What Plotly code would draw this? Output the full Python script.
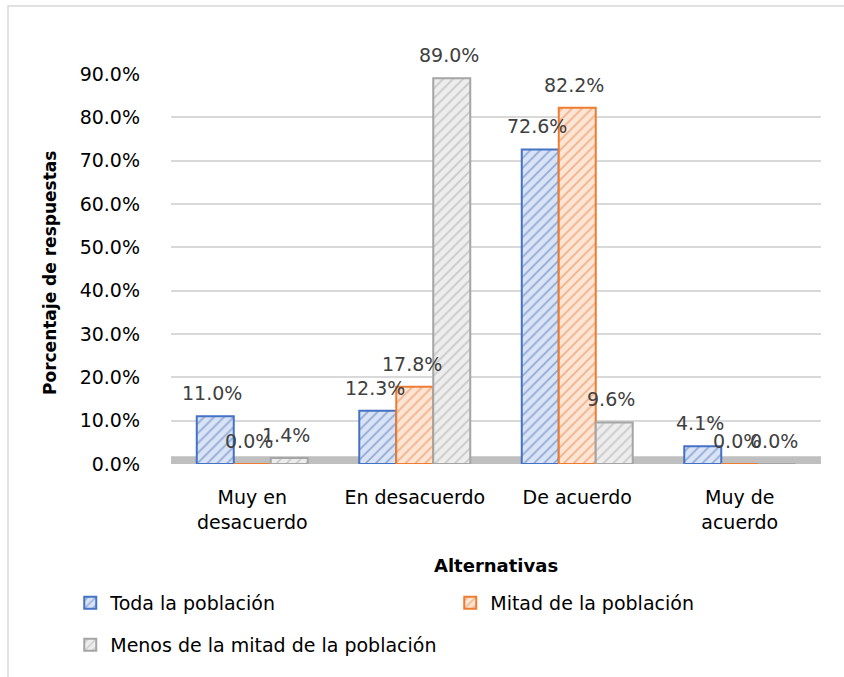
import plotly.graph_objects as go

categories = ["Muy en<br>desacuerdo", "En desacuerdo", "De acuerdo", "Muy de<br>acuerdo"]
series_names = ["Toda la población", "Mitad de la población", "Menos de la mitad de la población"]
toda = [11.0, 12.3, 72.6, 4.1]
mitad = [0.0, 17.8, 82.2, 0.0]
menos = [1.4, 89.0, 9.6, 0.0]
y_ticks = [0, 10, 20, 30, 40, 50, 60, 70, 80, 90]
y_tick_labels = [f"{v:.1f}%" for v in y_ticks]

series_values = [toda, mitad, menos]
edge_colors = ["#4472C4", "#ED7D31", "#A5A5A5"]
fill_colors = ["#DAE3F3", "#FBE5D6", "#EDEDED"]
legends = ["legend", "legend", "legend2"]

FONT = "DejaVu Sans"

fig = go.Figure()
for name, vals, ec, fc, lg in zip(series_names, series_values, edge_colors, fill_colors, legends):
    fig.add_trace(go.Bar(
        x=categories, y=vals, name=name, legend=lg,
        marker=dict(
            color=fc,
            line=dict(color=ec, width=2),
            pattern=dict(shape="/", fgcolor=ec, size=7, solidity=0.25, fillmode="overlay"),
        ),
    ))

# data labels
bar_px = 37
for i, vals in enumerate(series_values):
    for c, v in zip(categories, vals):
        fig.add_annotation(
            x=c, y=v, xref="x", yref="y", text=f"{v:.1f}%", showarrow=False,
            xshift=(i - 1) * bar_px - 3, yshift=23, yanchor="middle",
            font=dict(family=FONT, size=19, color="#404040"),
        )

# axis titles
fig.add_annotation(x=0.5, y=-0.259, xref="paper", yref="paper", text="<b>Alternativas</b>",
                   showarrow=False, yanchor="middle", xanchor="center",
                   font=dict(family=FONT, size=18, color="#000000"))
fig.add_annotation(x=-0.186, y=0.49, xref="paper", yref="paper", text="<b>Porcentaje de respuestas</b>",
                   showarrow=False, textangle=-90, yanchor="middle", xanchor="center",
                   font=dict(family=FONT, size=17, color="#000000"))

# floor band and outer border
fig.add_shape(type="rect", xref="paper", yref="paper", x0=0, x1=1, y0=0, y1=0.02,
              fillcolor="#BFBFBF", line=dict(width=0), layer="below")
fig.add_shape(type="rect", xref="paper", yref="paper",
              x0=(8 - 171) / 650, x1=(860 - 171) / 650, y0=(464 - 700) / 390, y1=(464 - 6) / 390,
              fillcolor="rgba(0,0,0,0)", line=dict(color="#D9D9D9", width=1.5))

fig.update_layout(
    width=844, height=677,
    margin=dict(l=171, r=23, t=74, b=213),
    paper_bgcolor="white", plot_bgcolor="white",
    barmode="group", bargap=0.317, bargroupgap=0,
    font=dict(family=FONT, size=19, color="#000000"),
    legend=dict(orientation="h", x=-0.155, xanchor="left", y=-0.356, yanchor="middle",
                entrywidth=335, entrywidthmode="pixels", itemwidth=30,
                font=dict(family=FONT, size=19, color="#000000"), bgcolor="rgba(0,0,0,0)"),
    legend2=dict(orientation="h", x=-0.155, xanchor="left", y=-0.464, yanchor="middle",
                 itemwidth=30,
                 font=dict(family=FONT, size=19, color="#000000"), bgcolor="rgba(0,0,0,0)"),
    showlegend=True,
)
fig.update_xaxes(showgrid=False, showline=False, zeroline=False, ticks="",
                 tickfont=dict(family=FONT, size=19, color="#000000"), ticklabelstandoff=20)
fig.update_yaxes(range=[0, 90], tickmode="array", tickvals=y_ticks, ticktext=y_tick_labels,
                 showgrid=True, gridcolor="#D9D9D9", gridwidth=1.5, zeroline=False, showline=False,
                 ticks="", tickfont=dict(family=FONT, size=19, color="#000000"), ticklabelstandoff=30)

fig.write_html("out.html")
